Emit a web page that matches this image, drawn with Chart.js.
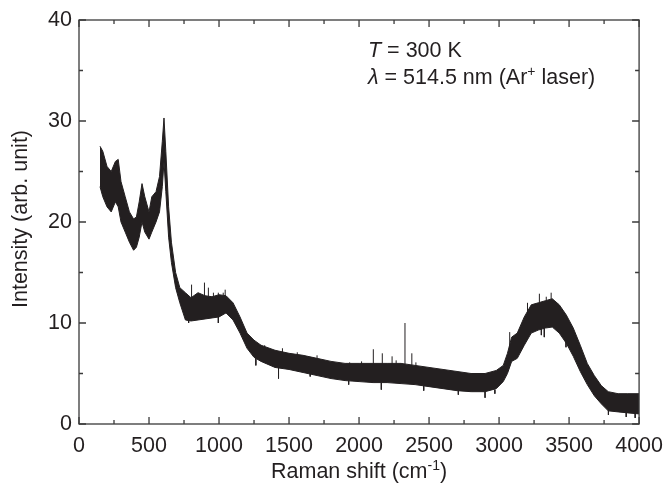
<!DOCTYPE html>
<html>
<head>
<meta charset="utf-8">
<script src="https://cdn.jsdelivr.net/npm/chart.js@4/dist/chart.umd.min.js"></script>
<style>
html, body { margin: 0; padding: 0; background: #fff; }
#wrap { width: 672px; height: 492px; }
</style>
</head>
<body>
<div id="wrap"><canvas id="ramanChart" width="672" height="492"></canvas></div>
<script>
// Raman shift (cm-1) sample points, with upper and lower edge of the noisy trace
const shifts = [150, 170, 200, 230, 260, 280, 300, 330, 360, 390, 410, 430, 450, 470, 500, 520, 550, 575, 595, 607, 620, 640, 660, 690, 720,
  760, 800, 850, 900, 950, 1000, 1050, 1100, 1150, 1200, 1250, 1300, 1400, 1500, 1600, 1700, 1800, 1900, 2000, 2100, 2200, 2300,
  2400, 2500, 2600, 2700, 2800, 2900, 2980, 3030, 3060, 3090, 3130, 3180, 3230, 3280, 3330, 3380, 3430, 3480, 3530, 3580, 3630,
  3680, 3730, 3780, 3850, 3920, 4000];
const bandTop = [27.5, 27.0, 25.5, 25.0, 26.0, 26.2, 24.0, 22.5, 21.0, 20.3, 20.5, 22.0, 23.8, 22.5, 21.0, 22.5, 23.0, 24.5, 28.0, 30.3, 27.0, 21.5, 18.0, 15.0, 13.5,
  13.0, 12.5, 13.0, 12.7, 12.6, 12.8, 12.7, 12.0, 10.6, 9.0, 8.3, 7.8, 7.3, 7.0, 6.8, 6.5, 6.2, 6.0, 6.0, 6.0, 6.0, 6.0,
  5.8, 5.6, 5.4, 5.2, 5.0, 5.0, 5.3, 5.8, 7.0, 8.6, 9.0, 10.6, 11.8, 12.0, 12.2, 12.4, 11.8, 10.8, 9.5, 7.8, 6.0,
  4.8, 3.8, 3.2, 3.0, 3.0, 3.0];
const bandBottom = [23.5, 22.5, 21.5, 21.0, 22.0, 21.5, 20.0, 19.0, 18.0, 17.2, 17.5, 18.5, 20.0, 19.0, 18.3, 19.0, 20.0, 21.0, 23.5, 26.0, 23.0, 18.5, 16.0, 13.5, 12.0,
  10.3, 10.2, 10.3, 10.4, 10.5, 10.6, 11.0, 10.3, 9.0, 7.5, 6.6, 6.2, 5.6, 5.4, 5.1, 4.8, 4.5, 4.3, 4.2, 4.1, 4.1, 4.0,
  3.9, 3.7, 3.5, 3.3, 3.2, 3.2, 3.5, 4.2, 5.0, 6.2, 6.5, 7.8, 9.0, 9.3, 9.5, 9.6, 9.0, 8.0, 6.7, 5.2, 3.9,
  2.8, 2.0, 1.3, 1.2, 1.1, 1.0];

// single-channel spikes sticking out of the band (from, to)
const spikeShifts = [198, 783, 804, 896, 924, 960, 995, 995, 1030, 1044, 1263, 1326, 1425, 1453, 1559, 1651, 1700, 1926, 1933,
  2018, 2102, 2159, 2166, 2236, 2265, 2328, 2377, 2406, 2462, 2709, 2900, 2970, 3076, 3203, 3288, 3302, 3323, 3337, 3372,
  3478, 3781, 3908, 3972];
const spikeFrom = [24.0, 10.5, 12.5, 12.6, 12.6, 12.6, 12.7, 10.6, 12.7, 12.6, 6.8, 7.2, 5.6, 7.0, 6.8, 5.2, 6.4, 4.3, 5.9,
  5.9, 5.8, 4.1, 5.8, 5.8, 5.9, 5.8, 5.7, 5.7, 3.8, 3.3, 3.2, 3.4, 7.2, 10.8, 12.0, 9.5, 9.5, 12.1, 12.3,
  8.2, 1.4, 1.2, 1.1];
const spikeTo = [25.5, 10.0, 13.8, 14.0, 13.5, 13.0, 13.0, 10.0, 13.0, 13.3, 5.8, 7.8, 4.5, 7.5, 7.1, 4.7, 6.8, 3.9, 6.1,
  6.2, 7.4, 3.4, 7.0, 6.7, 6.3, 10.0, 7.0, 6.1, 3.3, 2.9, 2.6, 3.0, 9.1, 12.0, 12.9, 8.8, 8.6, 12.6, 13.0,
  7.6, 0.9, 0.7, 0.6];

const xTicks = [0, 500, 1000, 1500, 2000, 2500, 3000, 3500, 4000];
const xMinorTicks = [250, 750, 1250, 1750, 2250, 2750, 3250, 3750];
const yTicks = [0, 10, 20, 30, 40];
const yMinorTicks = [5, 15, 25, 35];

const ink = '#231f20';
const frameColor = '#3a3a3a';
const fontName = '"Liberation Sans", Arial, sans-serif';
const fontSize = 21.5;

const spikeData = [];
spikeShifts.forEach(function(x, i) {
  spikeData.push({x: x, y: spikeFrom[i]}, {x: x, y: spikeTo[i]}, {x: x, y: null});
});

// draw text pieces one after another (for italic letters and superscripts)
function drawRuns(ctx, runs, x, y, align) {
  let total = 0;
  runs.forEach(function(r) { ctx.font = r.font; total += ctx.measureText(r.text).width; });
  let cx = align === 'center' ? x - total / 2 : x;
  runs.forEach(function(r) {
    ctx.font = r.font;
    ctx.fillText(r.text, cx, y - (r.rise || 0));
    cx += ctx.measureText(r.text).width;
  });
}

const frameAndText = {
  id: 'frameAndText',
  afterDraw(chart) {
    const ctx = chart.ctx;
    const a = chart.chartArea;
    const xs = chart.scales.x, ys = chart.scales.y;
    ctx.save();
    ctx.strokeStyle = frameColor;
    ctx.lineWidth = 1.3;
    ctx.strokeRect(a.left, a.top, a.right - a.left, a.bottom - a.top);
    ctx.beginPath();
    function xTick(v, len) {
      const p = xs.getPixelForValue(v);
      ctx.moveTo(p, a.bottom); ctx.lineTo(p, a.bottom - len);
      ctx.moveTo(p, a.top); ctx.lineTo(p, a.top + len);
    }
    function yTick(v, len) {
      const p = ys.getPixelForValue(v);
      ctx.moveTo(a.left, p); ctx.lineTo(a.left + len, p);
      ctx.moveTo(a.right, p); ctx.lineTo(a.right - len, p);
    }
    xTicks.forEach(function(v) { xTick(v, 7); });
    xMinorTicks.forEach(function(v) { xTick(v, 4); });
    yTicks.forEach(function(v) { yTick(v, 7); });
    yMinorTicks.forEach(function(v) { yTick(v, 4); });
    ctx.stroke();

    ctx.fillStyle = ink;
    ctx.textBaseline = 'alphabetic';
    ctx.textAlign = 'left';
    const f = fontSize + 'px ' + fontName;
    const fi = 'italic ' + fontSize + 'px ' + fontName;
    const fs = '14px ' + fontName;

    // x axis title
    drawRuns(ctx, [
      {text: 'Raman shift (cm', font: f},
      {text: '-1', font: fs, rise: 8},
      {text: ')', font: f}
    ], (a.left + a.right) / 2, 478, 'center');

    // y axis title
    ctx.save();
    ctx.translate(27, (a.top + a.bottom) / 2 - 3);
    ctx.rotate(-Math.PI / 2);
    drawRuns(ctx, [{text: 'Intensity (arb. unit)', font: f}], 0, 0, 'center');
    ctx.restore();

    // measurement conditions
    drawRuns(ctx, [
      {text: 'T', font: fi},
      {text: ' = 300 K', font: f}
    ], 368, 57, 'left');
    drawRuns(ctx, [
      {text: 'λ', font: fi},
      {text: ' = 514.5 nm (Ar', font: f},
      {text: '+', font: fs, rise: 8},
      {text: ' laser)', font: f}
    ], 368, 84, 'left');
    ctx.restore();
  }
};

new Chart(document.getElementById('ramanChart'), {
  type: 'line',
  data: {
    datasets: [{
      label: 'top',
      data: shifts.map(function(x, i) { return {x: x, y: bandTop[i]}; }),
      borderColor: ink,
      backgroundColor: ink,
      borderWidth: 1,
      pointRadius: 0,
      fill: '+1',
      tension: 0
    }, {
      label: 'bottom',
      data: shifts.map(function(x, i) { return {x: x, y: bandBottom[i]}; }),
      borderColor: ink,
      borderWidth: 1,
      pointRadius: 0,
      fill: false,
      tension: 0
    }, {
      label: 'spikes',
      data: spikeData,
      borderColor: ink,
      borderWidth: 1,
      pointRadius: 0,
      fill: false,
      spanGaps: false
    }]
  },
  options: {
    responsive: false,
    animation: false,
    layout: { padding: { left: 0, right: 26, top: 20, bottom: 0 } },
    plugins: { legend: { display: false }, tooltip: { enabled: false } },
    scales: {
      x: {
        type: 'linear',
        min: 0,
        max: 4000,
        afterBuildTicks: function(s) { s.ticks = xTicks.map(function(v) { return {value: v}; }); },
        afterFit: function(s) { s.height = 68; },
        grid: { display: false, drawTicks: false },
        border: { display: false },
        ticks: {
          color: ink, font: { family: fontName, size: fontSize }, padding: 9, maxRotation: 0, autoSkip: false,
          callback: function(v) { return String(v); }
        }
      },
      y: {
        min: 0,
        max: 40,
        afterBuildTicks: function(s) { s.ticks = yTicks.map(function(v) { return {value: v}; }); },
        afterFit: function(s) { s.width = 79; },
        grid: { display: false, drawTicks: false },
        border: { display: false },
        ticks: {
          color: ink, font: { family: fontName, size: fontSize }, padding: 7,
          callback: function(v) { return String(v); }
        }
      }
    }
  },
  plugins: [frameAndText]
});
</script>
</body>
</html>
